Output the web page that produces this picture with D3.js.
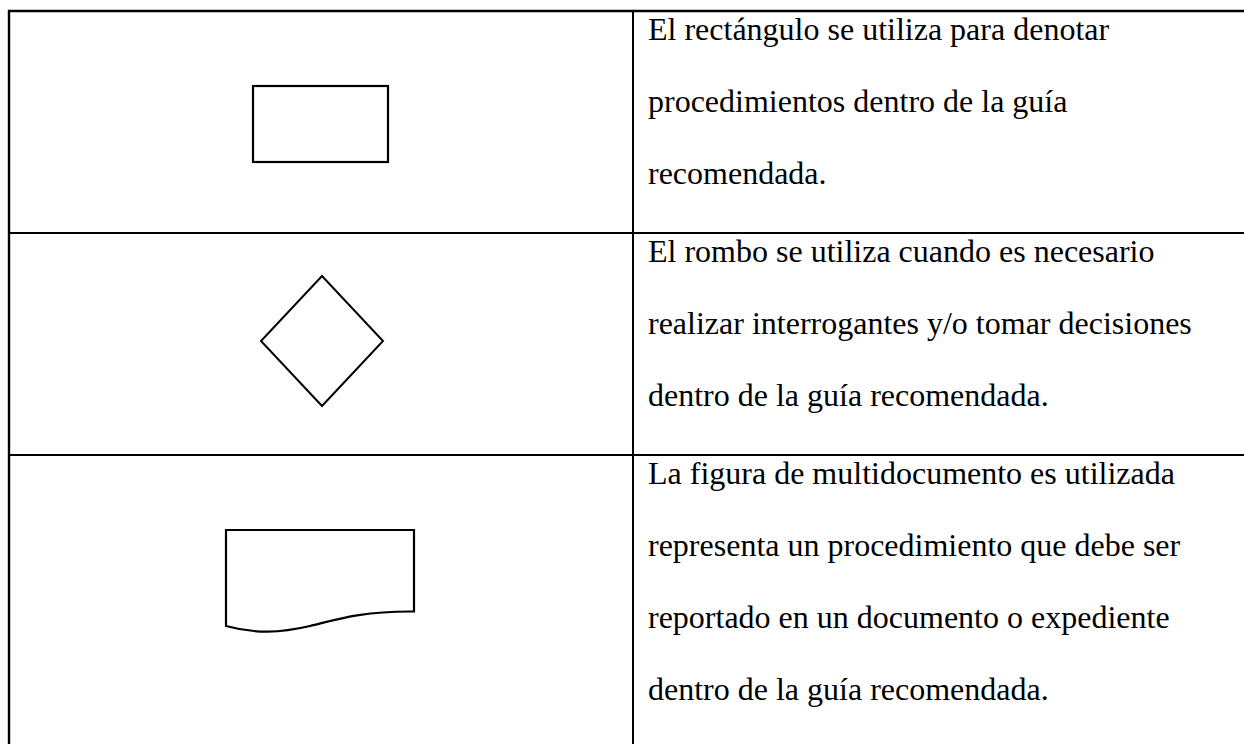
<!DOCTYPE html>
<html>
<head>
<meta charset="utf-8">
<script src="https://cdn.jsdelivr.net/npm/d3@7"></script>
<style>
  html, body { margin: 0; padding: 0; background: #fff; overflow: hidden; }
  svg { display: block; }
</style>
</head>
<body>
<svg id="chart" width="1244" height="744"></svg>
<script>
// ---- data ----
const shapes = ["rectangle", "diamond", "document"];
const descriptions = [
  ["El rectángulo se utiliza para denotar", "procedimientos dentro de la guía", "recomendada."],
  ["El rombo se utiliza cuando es necesario", "realizar interrogantes y/o tomar decisiones", "dentro de la guía recomendada."],
  ["La figura de multidocumento es utilizada", "representa un procedimiento que debe ser", "reportado en un documento o expediente", "dentro de la guía recomendada."]
];
const rowBoundaries = [0, 1, 2, 3];

// ---- layout ----
const W = 1244, H = 744;
const tableLeft = 9, tableRight = 1260, colSplit = 633;
const rowTop = 11, rowH = 222;
const lineH = 72, baseOffset = 29, textX = 648;
const fontSize = 32;

const svg = d3.select("#chart");
const yRow = d3.scaleLinear().domain([0, 1]).range([rowTop, rowTop + rowH]);

// table grid
const g = svg.append("g");
g.append("line").attr("x1", tableLeft - 1).attr("x2", tableRight)
  .attr("y1", yRow(0)).attr("y2", yRow(0)).attr("stroke", "#000").attr("stroke-width", 2.4);
g.selectAll("line.rowsep").data(rowBoundaries.slice(1, 3)).join("line")
  .attr("class", "rowsep")
  .attr("x1", tableLeft).attr("x2", tableRight)
  .attr("y1", d => yRow(d)).attr("y2", d => yRow(d))
  .attr("stroke", "#000").attr("stroke-width", 2);
g.append("line").attr("x1", tableLeft).attr("x2", tableLeft)
  .attr("y1", yRow(0) - 1).attr("y2", H + 10).attr("stroke", "#000").attr("stroke-width", 2.4);
g.append("line").attr("x1", colSplit).attr("x2", colSplit)
  .attr("y1", yRow(0) - 1).attr("y2", H + 10).attr("stroke", "#000").attr("stroke-width", 2);

// text
descriptions.forEach((lines, r) => {
  svg.append("g").selectAll("text").data(lines).join("text")
    .attr("x", textX)
    .attr("y", (d, i) => yRow(r) + baseOffset + i * lineH)
    .attr("font-family", "'Liberation Serif', 'Times New Roman', serif")
    .attr("font-size", fontSize)
    .attr("fill", "#000")
    .text(d => d);
});

// shapes
const sg = svg.append("g").attr("fill", "none").attr("stroke", "#000").attr("stroke-width", 2.2);
// rectangle
sg.append("rect").attr("x", 253).attr("y", 86).attr("width", 135).attr("height", 76);
// diamond
const dc = { x: 322, y: 341, hw: 61, hh: 65 };
sg.append("path").attr("d",
  `M${dc.x},${dc.y - dc.hh} L${dc.x + dc.hw},${dc.y} L${dc.x},${dc.y + dc.hh} L${dc.x - dc.hw},${dc.y} Z`)
  .attr("stroke-width", 2);
// document
const p = d3.path();
p.moveTo(226, 530);
p.lineTo(414, 530);
p.lineTo(414, 611.5);
p.bezierCurveTo(360, 611, 335, 620, 310, 626);
p.bezierCurveTo(280, 633, 255, 634, 226, 626);
p.closePath();
sg.append("path").attr("d", p.toString());
</script>
</body>
</html>
